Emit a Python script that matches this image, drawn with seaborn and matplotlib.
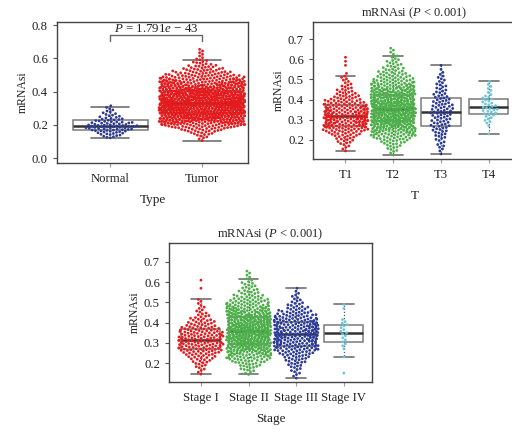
import numpy as np
import pandas as pd
import matplotlib
matplotlib.use("Agg")
import matplotlib.pyplot as plt
import seaborn as sns
import seaborn.categorical as scat

# ---------------- data (counts of samples per 0.02-wide mRNAsi bin) ----
bin_lo = [0.10, 0.12, 0.14, 0.16, 0.18, 0.20, 0.22, 0.24, 0.26, 0.28, 0.30, 0.32, 0.34, 0.36,
          0.38, 0.40, 0.42, 0.44, 0.46, 0.48, 0.50, 0.52, 0.54, 0.56, 0.58, 0.60, 0.62, 0.64]

type_groups = ["Normal", "Tumor"]
normal_counts = [0, 6, 9, 14, 17, 13, 9, 6, 4, 3, 2, 0, 0, 0, 0, 0, 0, 0, 0, 0, 0, 0, 0, 0, 0, 0, 0, 0]
tumor_counts = [2, 4, 8, 14, 25, 45, 60, 75, 86, 93, 96, 95, 91, 85, 77, 68, 56, 45, 35, 27, 20, 14,
                10, 6, 4, 2, 2, 2]
type_colors = ["#2B3A97", "#E41A1C"]
p_type_text = r"$P$ = 1.791$e$ − 43"

t_groups = ["T1", "T2", "T3", "T4"]
t1_counts = [0, 0, 2, 3, 6, 8, 12, 18, 24, 27, 27, 26, 22, 19, 15, 11, 8, 6, 4, 3, 3, 1, 0, 1, 1, 1, 0, 0]
t2_counts = [0, 2, 4, 6, 10, 15, 22, 30, 38, 44, 48, 50, 50, 48, 45, 40, 35, 30, 24, 18, 14, 11, 8,
             6, 5, 3, 2, 2]
t3_counts = [0, 1, 2, 3, 3, 4, 5, 6, 7, 7, 7, 8, 8, 8, 7, 6, 5, 4, 4, 3, 3, 2, 1, 1, 0, 0, 0, 0]
t4_counts = [0, 0, 0, 0, 0, 0, 1, 0, 1, 3, 3, 5, 6, 5, 4, 4, 2, 2, 2, 1, 0, 0, 0, 0, 0, 0, 0, 0]
t_colors = ["#E41A1C", "#4DAF4A", "#2B3A97", "#6CC6D9"]

stage_groups = ["Stage I", "Stage II", "Stage III", "Stage IV"]
s1_counts = [0, 0, 2, 3, 5, 7, 10, 14, 18, 19, 20, 19, 17, 15, 11, 9, 6, 4, 3, 2, 2, 0, 0, 1, 0, 1, 0, 0]
s2_counts = [0, 0, 3, 6, 9, 14, 20, 28, 36, 43, 48, 50, 50, 48, 45, 41, 36, 31, 25, 19, 15, 11, 8,
             6, 5, 3, 2, 2]
s3_counts = [0, 2, 3, 4, 6, 8, 10, 14, 19, 22, 24, 25, 25, 24, 22, 20, 17, 13, 9, 6, 4, 3, 2, 1, 0, 0, 0, 0]
s4_counts = [0, 0, 1, 0, 0, 0, 1, 0, 1, 2, 2, 2, 3, 2, 3, 2, 0, 0, 1, 1, 0, 0, 0, 0, 0, 0, 0, 0]
stage_colors = ["#E41A1C", "#4DAF4A", "#2B3A97", "#6CC6D9"]
p_title = r"mRNAsi ($P$ < 0.001)"

BIN_W = 0.02


def expand(groups, count_lists):
    rows = []
    for g, counts in zip(groups, count_lists):
        for lo, n in zip(bin_lo, counts):
            for k in range(n):
                rows.append((g, lo + (k + 0.5) / n * BIN_W))
    return pd.DataFrame(rows, columns=["group", "mRNAsi"])


# widen the swarm band slightly (reference swarms fill ~94% of the category slot)
_orig_init = scat.Beeswarm.__init__


def _bee_init(self, orient="x", width=0.8, warn_thresh=.05):
    _orig_init(self, orient=orient, width=width * 1.17, warn_thresh=warn_thresh)


scat.Beeswarm.__init__ = _bee_init

# leave a small gap between neighbouring dots, as in the reference swarms
_orig_call = scat.Beeswarm.__call__


def _bee_call(self, points, center):
    s = points.get_sizes()
    points.set_sizes(s * 1.35)
    try:
        _orig_call(self, points, center)
    finally:
        points.set_sizes(s)


scat.Beeswarm.__call__ = _bee_call


# overflowing points wrap around inside the band instead of piling on its edges
def _bee_wrap(self, points, center, trans_fwd, trans_inv):
    half = self.width / 2
    c = trans_fwd(center)
    p = trans_fwd(np.asarray(points, dtype=float))
    d = p - c
    off = np.abs(d) > half
    if np.any(off):
        d = np.where(off, np.mod(d + half, 2 * half) - half, d)
        points[:] = trans_inv(c + d)
    return points


scat.Beeswarm.add_gutters = _bee_wrap

# ---------------- style ----------------
sns.set_style("white")
plt.rcParams["font.family"] = ["Liberation Serif", "DejaVu Serif"]
plt.rcParams["mathtext.fontset"] = "custom"
plt.rcParams["mathtext.rm"] = "Liberation Serif"
plt.rcParams["mathtext.it"] = "Liberation Serif:italic"
plt.rcParams["axes.unicode_minus"] = True

fig = plt.figure(figsize=(5.12, 4.32), dpi=100)
W, H = 512, 432


def add_ax(l, r, t, b):
    return fig.add_axes([l / W, 1 - b / H, (r - l) / W, (b - t) / H])


ax1 = add_ax(57, 248, 22, 163)
ax2 = add_ax(313, 516, 22, 159)
ax3 = add_ax(169, 372, 243, 382)

box_kw = dict(width=0.82, color="white", linecolor="#7a7a7a", linewidth=1.1, showfliers=False,
              medianprops=dict(color="#333333", linewidth=1.8),
              whiskerprops=dict(color="#555555", linestyle=(0, (1, 1.5)), linewidth=0.9),
              capprops=dict(color="#707070", linewidth=1.2))


def panel(ax, df, order, colors, xlabel, yticks, ylim, xlim, title=None):
    sns.boxplot(data=df, x="group", y="mRNAsi", order=order, ax=ax, **box_kw)
    sns.swarmplot(data=df, x="group", y="mRNAsi", order=order, hue="group", hue_order=order,
                  palette=colors, size=2.0, linewidth=0, legend=False, ax=ax, zorder=3,
                  warn_thresh=1)
    ax.set_ylim(*ylim)
    ax.set_xlim(*xlim)
    ax.set_yticks(yticks)
    ax.set_yticklabels([f"{v:.1f}" for v in yticks])
    ax.set_xlabel(xlabel, fontsize=9.5, color="#222222", labelpad=7)
    ax.set_ylabel("mRNAsi", fontsize=8.5, color="#222222", labelpad=2)
    ax.tick_params(axis="both", labelsize=9.2, colors="#222222", length=3, width=0.8,
                   direction="out", bottom=True, left=True)
    ax.tick_params(axis="x", color="#999999", pad=4)
    ax.tick_params(axis="y", color="#555555")
    for s in ax.spines.values():
        s.set_visible(True)
        s.set_color("#444444")
        s.set_linewidth(1.0)
    if title:
        ax.set_title(title, fontsize=9, color="#222222", pad=4)


df_type = expand(type_groups, [normal_counts, tumor_counts])
df_t = expand(t_groups, [t1_counts, t2_counts, t3_counts, t4_counts])
df_s = expand(stage_groups, [s1_counts, s2_counts, s3_counts, s4_counts])

panel(ax1, df_type, type_groups, type_colors, "Type", [0.0, 0.2, 0.4, 0.6, 0.8],
      (-0.03, 0.82), (-0.58, 1.5))
panel(ax2, df_t, t_groups, t_colors, "T", [0.2, 0.3, 0.4, 0.5, 0.6, 0.7],
      (0.105, 0.785), (-0.68, 3.57), title=p_title)
panel(ax3, df_s, stage_groups, stage_colors, "Stage", [0.2, 0.3, 0.4, 0.5, 0.6, 0.7],
      (0.106, 0.794), (-0.67, 3.59), title=p_title)

# significance bracket on the Type panel
ax1.plot([0, 0, 1, 1], [0.707, 0.741, 0.741, 0.707], color="#666666", linewidth=1.0)
ax1.text(0.5, 0.757, p_type_text, ha="center", va="baseline", fontsize=9.3, color="#222222")

fig.savefig("out.png", dpi=100)
